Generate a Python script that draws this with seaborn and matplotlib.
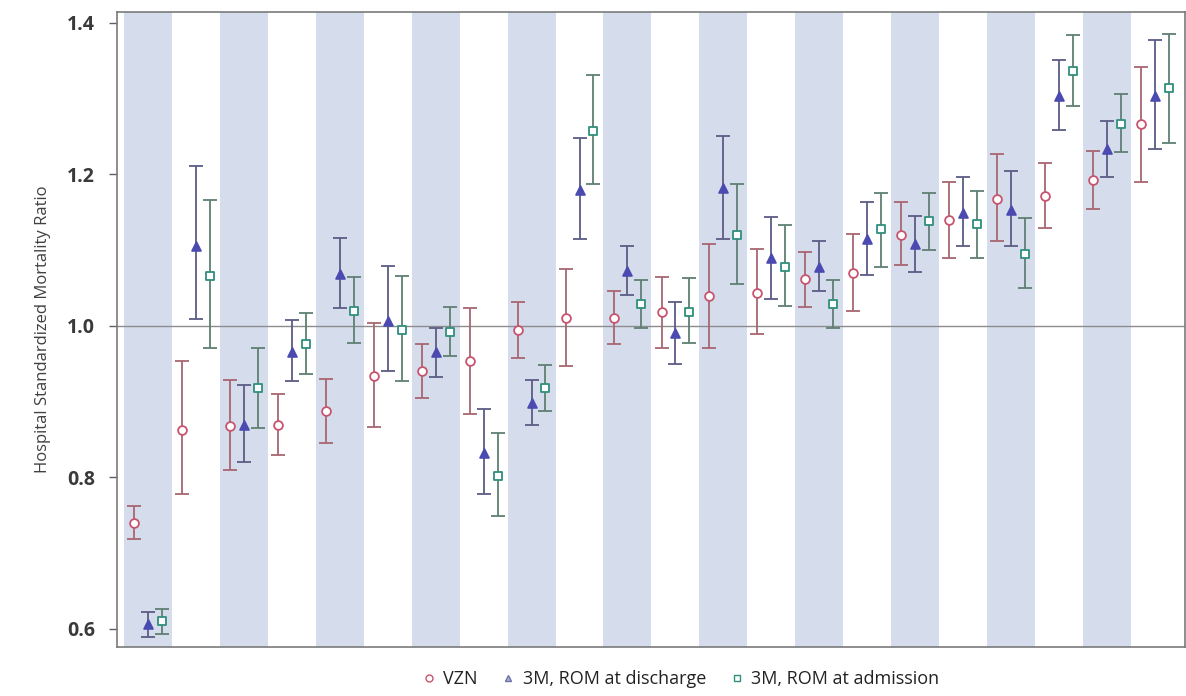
import numpy as np
import pandas as pd
import matplotlib
matplotlib.use("Agg")
import matplotlib.pyplot as plt
from matplotlib.lines import Line2D
import seaborn as sns

# Hospital standardized mortality ratios with 95% intervals, 22 hospitals
# sorted by the VZN estimate.
vzn = [0.740, 0.863, 0.868, 0.869, 0.888, 0.934, 0.940, 0.953, 0.995, 1.010, 1.010,
       1.018, 1.040, 1.044, 1.062, 1.070, 1.120, 1.140, 1.168, 1.171, 1.193, 1.266]
vzn_lo = [0.718, 0.778, 0.810, 0.830, 0.846, 0.866, 0.905, 0.884, 0.957, 0.947, 0.976,
          0.971, 0.971, 0.989, 1.025, 1.020, 1.080, 1.090, 1.112, 1.129, 1.154, 1.190]
vzn_hi = [0.762, 0.953, 0.928, 0.910, 0.930, 1.004, 0.976, 1.023, 1.031, 1.075, 1.046,
          1.065, 1.108, 1.102, 1.098, 1.121, 1.163, 1.190, 1.227, 1.215, 1.231, 1.342]

dis = [0.607, 1.106, 0.869, 0.966, 1.069, 1.006, 0.965, 0.832, 0.898, 1.180, 1.072,
       0.990, 1.182, 1.090, 1.078, 1.115, 1.108, 1.149, 1.153, 1.303, 1.234, 1.303]
dis_lo = [0.589, 1.009, 0.820, 0.927, 1.023, 0.941, 0.932, 0.778, 0.869, 1.115, 1.041,
          0.950, 1.115, 1.036, 1.046, 1.067, 1.071, 1.105, 1.105, 1.259, 1.196, 1.234]
dis_hi = [0.622, 1.211, 0.922, 1.008, 1.116, 1.079, 0.997, 0.890, 0.928, 1.248, 1.106,
          1.031, 1.251, 1.144, 1.112, 1.163, 1.145, 1.196, 1.204, 1.351, 1.271, 1.377]

adm = [0.610, 1.066, 0.918, 0.976, 1.020, 0.995, 0.992, 0.802, 0.918, 1.257, 1.029,
       1.018, 1.120, 1.078, 1.029, 1.128, 1.138, 1.135, 1.095, 1.337, 1.266, 1.314]
adm_lo = [0.593, 0.971, 0.865, 0.937, 0.977, 0.927, 0.960, 0.749, 0.887, 1.188, 0.997,
          0.978, 1.055, 1.026, 0.997, 1.078, 1.100, 1.090, 1.050, 1.290, 1.230, 1.242]
adm_hi = [0.626, 1.166, 0.971, 1.017, 1.064, 1.066, 1.025, 0.858, 0.949, 1.331, 1.061,
          1.063, 1.187, 1.133, 1.061, 1.176, 1.176, 1.178, 1.143, 1.384, 1.306, 1.386]

series_names = ["VZN", "3M, ROM at discharge", "3M, ROM at admission"]
y_ticks = [0.6, 0.8, 1.0, 1.2, 1.4]

n = len(vzn)
offsets = [-0.29, 0.0, 0.29]
marker_colors = ["#c8546e", "#4a4ab0", "#2f8f7c"]
bar_colors = ["#a86672", "#5c5c86", "#5f7f72"]
markers = ["o", "^", "s"]
fills = ["white", "#4a4ab0", "white"]

frames = []
for name, est, lo, hi, off in zip(series_names, [vzn, dis, adm],
                                  [vzn_lo, dis_lo, adm_lo], [vzn_hi, dis_hi, adm_hi], offsets):
    frames.append(pd.DataFrame({"hospital": np.arange(n), "pos": np.arange(n) + off,
                                "hsmr": est, "lo": lo, "hi": hi, "series": name}))
df = pd.concat(frames, ignore_index=True)

sns.set_theme(style="white")
plt.rcParams["font.family"] = ["Open Sans", "DejaVu Sans"]

fig = plt.figure(figsize=(11.86, 6.96), dpi=100)
ax = fig.add_axes([0.0987, 0.0704, 0.9003, 0.9124])

# Alternating column shading
for i in range(0, n, 2):
    ax.axvspan(i - 0.5, i + 0.5, color="#d5dcec", lw=0, zorder=0)

ax.axhline(1.0, color="#8c8c8c", lw=1.0, zorder=1)

for k, name in enumerate(series_names):
    sub = df[df["series"] == name]
    ax.errorbar(sub["pos"], sub["hsmr"],
                yerr=[sub["hsmr"] - sub["lo"], sub["hi"] - sub["hsmr"]],
                fmt="none", ecolor=bar_colors[k], elinewidth=1.3, capsize=5,
                capthick=1.3, zorder=2)
    sns.scatterplot(data=sub, x="pos", y="hsmr", marker=markers[k], s=40,
                    facecolor=fills[k], edgecolor=marker_colors[k], linewidth=1.3,
                    ax=ax, zorder=3, legend=False)

ax.set_xlim(-0.646, 21.625)
ax.set_ylim(0.576, 1.4145)
ax.set_yticks(y_ticks)
ax.set_yticklabels([f"{t:.1f}" for t in y_ticks])
ax.set_xticks([])
ax.set_xlabel("")
ax.set_ylabel("Hospital Standardized Mortality Ratio", fontsize=12, color="#404040")
ax.yaxis.set_label_coords(-0.062, 0.5)
ax.tick_params(axis="y", direction="out", length=6, width=1, color="#606060",
               labelsize=14, labelcolor="#3a3a3a", left=True, pad=10)
for t in ax.get_yticklabels():
    t.set_fontweight("bold")
for sp in ax.spines.values():
    sp.set_color("#7a7a7a")
    sp.set_linewidth(1.2)

handles = [Line2D([], [], linestyle="none", marker=markers[k], markersize=5,
                  markerfacecolor="white" if k != 1 else "#b0b0d8",
                  markeredgecolor=marker_colors[k] if k != 1 else "#7070a8",
                  markeredgewidth=1.0) for k in range(3)]
fig.legend(handles, series_names, loc="center", bbox_to_anchor=(0.573, 0.024), ncol=3,
           frameon=False, fontsize=13, handletextpad=0.3, columnspacing=1.2,
           handlelength=1.0, labelcolor="#222222")

fig.savefig("out.png", dpi=100, facecolor="white")
